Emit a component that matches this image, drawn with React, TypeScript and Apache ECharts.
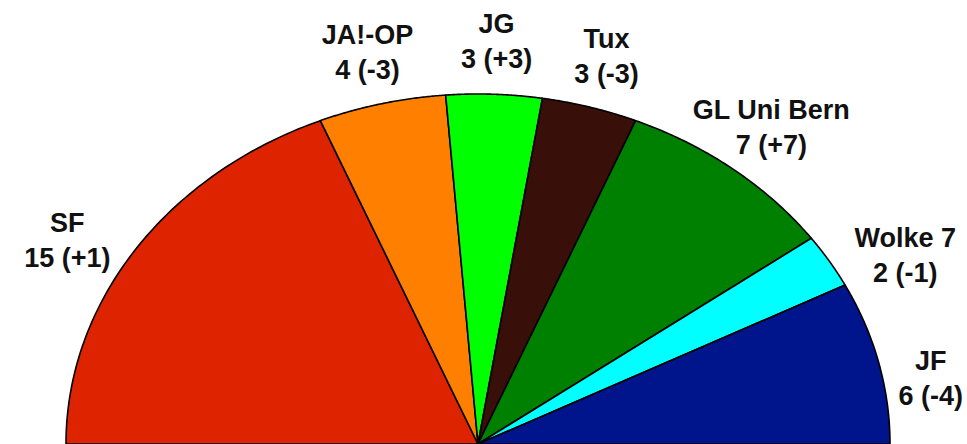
import React, { useEffect, useRef } from "react";
import * as echarts from "echarts";

const parties = ["SF", "JA!-OP", "JG", "Tux", "GL Uni Bern", "Wolke 7", "JF"];
const seats = [15, 4, 3, 3, 7, 2, 6];
const changes = ["+1", "-3", "+3", "-3", "+7", "-1", "-4"];
const colors = ["#dd2300", "#ff8000", "#00ff00", "#381009", "#008000", "#00ffff", "#00148c"];

const FONT = "bold 27px 'Liberation Sans', Arial, sans-serif";
const WIDTH = 967;

function measure(text: string): number {
  const c = document.createElement("canvas").getContext("2d");
  if (!c) return text.length * 15;
  c.font = FONT;
  return c.measureText(text).width;
}

export default function App() {
  const ref = useRef<HTMLDivElement>(null);
  useEffect(() => {
    if (!ref.current) return;
    const chart = echarts.init(ref.current, null, { renderer: "svg" });
    const total = seats.reduce((a, b) => a + b, 0);
    let acc = 0;
    const data = seats.map((s, i) => {
      const start = acc / total;
      acc += s;
      const end = acc / total;
      return { value: [start, end, s, i], name: parties[i] };
    });
    const option = {
      animation: false,
      backgroundColor: "#ffffff",
      grid: { left: 66, right: 77, top: 94, bottom: -2 },
      xAxis: { type: "value", min: -1, max: 1, show: false },
      yAxis: { type: "value", min: 0, max: 1, show: false },
      series: [
        {
          type: "custom",
          clip: false,
          data,
          renderItem: (params: any, api: any) => {
            const start = api.value(0) as number;
            const end = api.value(1) as number;
            const s = api.value(2) as number;
            const idx = api.value(3) as number;
            const a0 = Math.PI * (1 - start);
            const a1 = Math.PI * (1 - end);
            const steps = 80;
            const c0 = api.coord([0, 0]);
            const rx = api.coord([1, 0])[0] - c0[0];
            const ry = c0[1] - api.coord([0, 1])[1];
            const pts: number[][] = [c0];
            for (let k = 0; k <= steps; k++) {
              const t = a0 + ((a1 - a0) * k) / steps;
              pts.push(api.coord([Math.cos(t), Math.sin(t)]));
            }
            const mid = (a0 + a1) / 2;
            const c = Math.cos(mid);
            const sn = Math.sin(mid);
            const side = Math.abs(c) > 0.7;
            const lp = api.coord([1.15 * c, 1.15 * sn - (side ? 0.085 * c * c : 0)]);
            const line1 = parties[idx];
            const line2 = `${s} (${changes[idx]})`;
            const halfW = Math.max(measure(line1), measure(line2)) / 2;
            const halfH = 30;
            let lx = lp[0];
            const ly = lp[1];
            if (side) {
              // keep the inner lower corner of the label just outside the pie
              const v = (c0[1] - (ly + halfH)) / ry;
              const uReq = Math.sqrt(Math.max(0, 1.02 * 1.02 - v * v));
              const cornerX = lx - Math.sign(c) * halfW;
              const u = Math.abs(cornerX - c0[0]) / rx;
              if (u < uReq) lx = c0[0] + Math.sign(c) * (uReq * rx + halfW);
            }
            if (lx + halfW > WIDTH - 4) lx = WIDTH - 4 - halfW;
            if (lx - halfW < 4) lx = 4 + halfW;
            return {
              type: "group",
              children: [
                {
                  type: "polygon",
                  shape: { points: pts },
                  style: { fill: colors[idx], stroke: "#000000", lineWidth: 1.6, lineJoin: "round" },
                },
                {
                  type: "text",
                  x: lx,
                  y: ly,
                  style: {
                    text: `${line1}\n${line2}`,
                    fill: "#111111",
                    font: FONT,
                    align: "center",
                    verticalAlign: "middle",
                    lineHeight: 35,
                  },
                },
              ],
            };
          },
        },
      ],
    };
    chart.setOption(option as any);
    return () => chart.dispose();
  }, []);
  return (
    <div
      ref={ref}
      style={{ position: "fixed", left: 0, top: 0, width: 967, height: 444, background: "#fff" }}
    />
  );
}
